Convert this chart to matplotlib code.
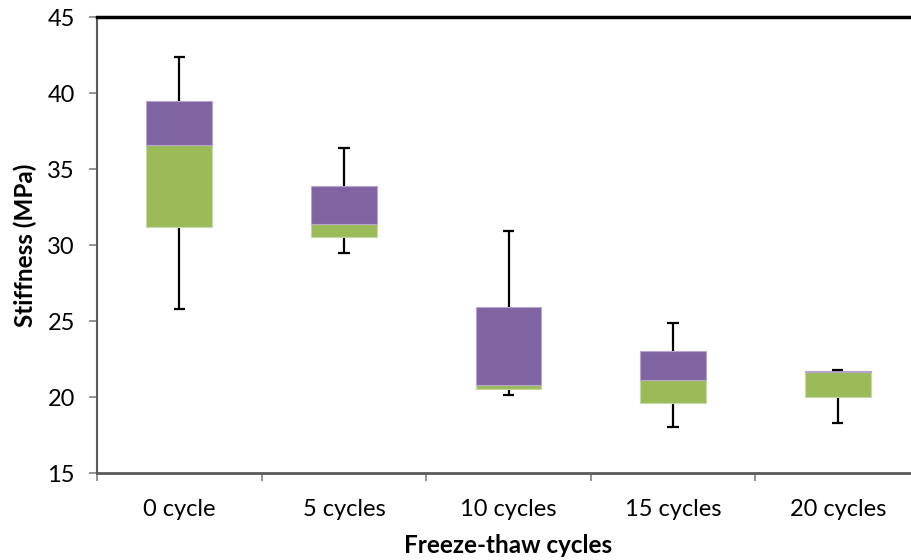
import matplotlib.pyplot as plt
import numpy as np

# data (MPa)
categories = ['0 cycle', '5 cycles', '10 cycles', '15 cycles', '20 cycles']
whisker_min = [25.8, 29.5, 20.1, 18.0, 18.3]
q1 = [31.2, 30.5, 20.5, 19.6, 20.0]
median = [36.6, 31.4, 20.8, 21.1, 21.65]
q3 = [39.5, 33.9, 25.9, 23.0, 21.7]
whisker_max = [42.4, 36.4, 30.9, 24.9, 21.8]

green = '#9BBB59'
purple = '#8064A2'

plt.rcParams['font.family'] = ['Lato', 'DejaVu Sans']

fig = plt.figure(figsize=(9.12, 5.6), dpi=100)
ax = fig.add_axes([97 / 912, 1 - 473 / 560, 823 / 912, 456 / 560])

x = np.arange(len(categories))
q1a, meda, q3a = np.array(q1), np.array(median), np.array(q3)

ax.bar(x, meda - q1a, bottom=q1a, width=0.4, color=green,
       edgecolor='#c8d9a6', linewidth=0.8, zorder=2)
ax.bar(x, q3a - meda, bottom=meda, width=0.4, color=purple,
       edgecolor='#b7a6cc', linewidth=0.8, zorder=2)

# whiskers with caps
ax.vlines(x, q3a, whisker_max, color='black', linewidth=1.6, zorder=1)
ax.vlines(x, whisker_min, q1a, color='black', linewidth=1.6, zorder=1)
ax.hlines(whisker_max, x - 0.035, x + 0.035, color='black', linewidth=1.6, zorder=3)
ax.hlines(whisker_min, x - 0.035, x + 0.035, color='black', linewidth=1.6, zorder=3)

ax.set_xlim(-0.5, len(categories) - 0.5)
ax.set_ylim(15, 45)
ax.set_yticks(range(15, 50, 5))
ax.set_xticks(x)
ax.set_xticklabels(categories)
ax.set_xticks(np.arange(-0.5, len(categories), 1), minor=True)
ax.tick_params(axis='x', which='major', length=0, pad=19, labelsize=17)
ax.tick_params(axis='x', which='minor', length=6, color='#808080', width=1.2)
ax.tick_params(axis='y', length=6, color='#808080', width=1.2, labelsize=17, pad=10)

ax.spines['top'].set_color('black')
ax.spines['top'].set_linewidth(2.5)
ax.spines['right'].set_visible(False)
ax.spines['left'].set_color('#595959')
ax.spines['left'].set_linewidth(1.5)
ax.spines['bottom'].set_color('#595959')
ax.spines['bottom'].set_linewidth(2)

ax.set_ylabel('Stiffness (MPa)', fontsize=17.5, fontweight='bold', labelpad=7)
ax.set_xlabel('Freeze-thaw cycles', fontsize=17.5, fontweight='bold', labelpad=10)

fig.savefig('out.png', dpi=100)
